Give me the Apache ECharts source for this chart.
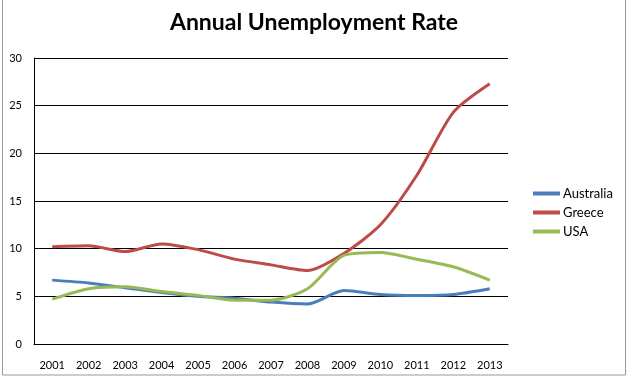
<!DOCTYPE html>
<html>
<head>
<meta charset="utf-8">
<script src="https://cdn.jsdelivr.net/npm/echarts@6/dist/echarts.min.js"></script>
<style>
  html, body { margin: 0; padding: 0; background: #fff; }
  #main { width: 628px; height: 376px; }
</style>
</head>
<body>
<div id="main"></div>
<script>
const years = ['2001', '2002', '2003', '2004', '2005', '2006', '2007', '2008', '2009', '2010', '2011', '2012', '2013'];
const australia = [6.7, 6.4, 5.9, 5.4, 5.0, 4.8, 4.4, 4.2, 5.6, 5.2, 5.1, 5.2, 5.8];
const greece = [10.2, 10.3, 9.7, 10.5, 9.9, 8.9, 8.3, 7.7, 9.5, 12.5, 17.7, 24.3, 27.3];
const usa = [4.7, 5.8, 6.0, 5.5, 5.1, 4.6, 4.6, 5.8, 9.3, 9.6, 8.9, 8.1, 6.7];

const font = 'Lato, "Open Sans", sans-serif';

let myChart = echarts.init(document.getElementById('main'));

function line(name, data, color) {
    return {
        name: name,
        type: 'line',
        data: data,
        smooth: 0.25,
        symbol: 'none',
        color: color,
        lineStyle: { width: 3, color: color }
    };
}

let option = {
    animation: false,
    title: {
        text: 'Annual Unemployment Rate',
        left: 'center',
        top: 6,
        textStyle: { fontFamily: font, fontSize: 23, fontWeight: 'bold', color: '#000' }
    },
    legend: {
        orient: 'vertical',
        left: 528,
        top: 182,
        itemWidth: 27,
        itemHeight: 4,
        itemGap: 6,
        icon: 'rect',
        textStyle: { fontFamily: font, fontSize: 13, color: '#000', padding: [0, 0, 0, -2] },
        data: ['Australia', 'Greece', 'USA']
    },
    grid: {
        left: 34,
        right: 120,
        top: 58,
        bottom: 32
    },
    xAxis: {
        type: 'category',
        data: years,
        boundaryGap: true,
        axisLine: { lineStyle: { color: '#000', width: 1 } },
        axisTick: { show: false },
        axisLabel: { fontFamily: font, fontSize: 11, color: '#000', margin: 16, interval: 0 }
    },
    yAxis: {
        type: 'value',
        min: 0,
        max: 30,
        interval: 5,
        axisLine: { show: true, lineStyle: { color: '#000', width: 1 } },
        axisTick: { show: false },
        axisLabel: { fontFamily: font, fontSize: 11, color: '#000', margin: 12 },
        splitLine: { lineStyle: { color: '#000', width: 1 } }
    },
    graphic: [
        {
            type: 'rect',
            shape: { x: 2.5, y: -2, width: 623, height: 377 },
            style: { fill: 'none', stroke: '#999', lineWidth: 1 },
            silent: true
        }
    ],
    series: [
        line('Australia', australia, '#4a7ebb'),
        line('Greece', greece, '#be4b48'),
        line('USA', usa, '#98b954')
    ]
};
myChart.setOption(option);
</script>
</body>
</html>
